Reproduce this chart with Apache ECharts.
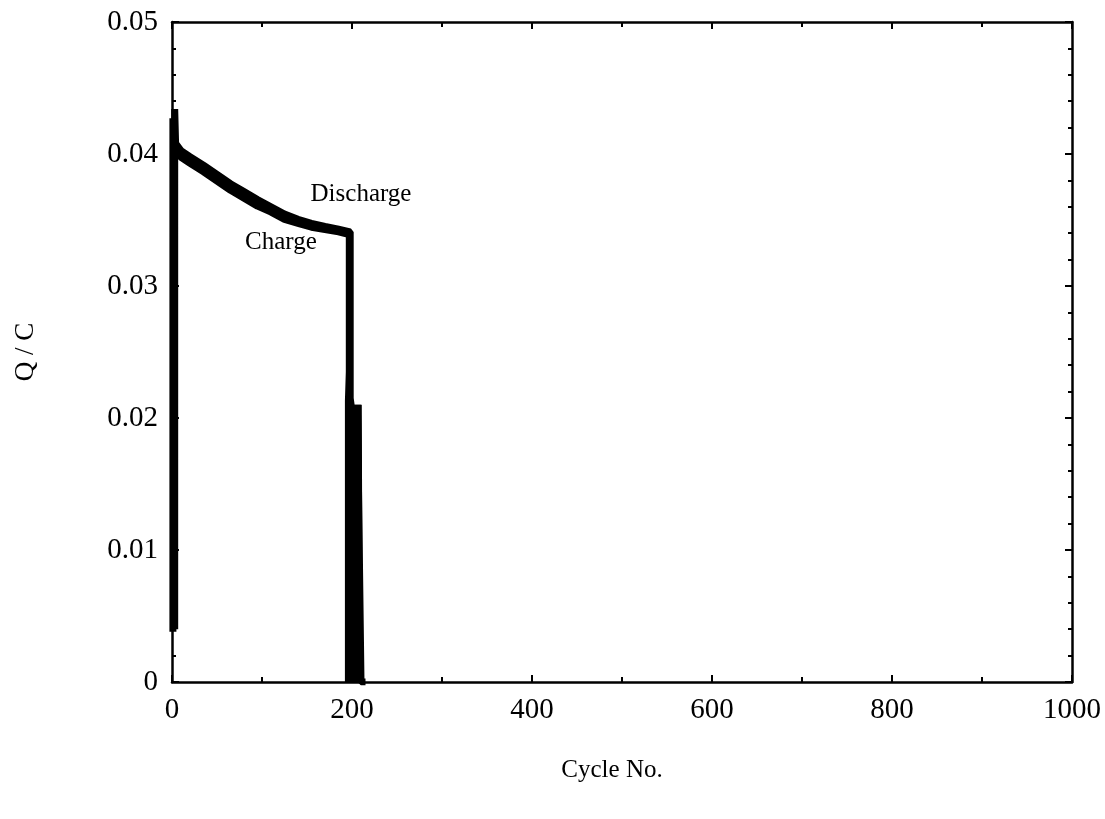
<!DOCTYPE html>
<html>
<head>
<meta charset="utf-8">
<script src="https://cdn.jsdelivr.net/npm/echarts@6/dist/echarts.min.js"></script>
<style>
  html, body { margin: 0; padding: 0; background: #fff; }
  #chart { width: 1105px; height: 819px; }
</style>
</head>
<body>
<div id="chart"></div>
<script>
  // cycle no. / Q (C) pairs
  var chargeData = [
    [1, 0.0038], [1, 0.0427], [3, 0.0402], [10, 0.03975], [20, 0.0393], [35, 0.03865],
    [50, 0.03795], [65, 0.03725], [80, 0.03665], [95, 0.03605], [110, 0.0356],
    [125, 0.03505], [140, 0.03475], [155, 0.03445], [170, 0.03428], [185, 0.0341],
    [197, 0.0339], [197, 0.0235], [196, 0.0213], [196, 0], [198, 0.021], [199, 0],
    [201, 0.021], [202, 0], [204, 0.021], [205, 0], [207, 0.021], [208, 0]
  ];
  var dischargeData = [
    [3, 0.0040], [3, 0.0434], [4, 0.0408], [10, 0.04025], [20, 0.0398], [35, 0.03915],
    [50, 0.03845], [65, 0.03775], [80, 0.03715], [95, 0.03655], [110, 0.036],
    [125, 0.03545], [140, 0.03505], [155, 0.03475], [170, 0.03452], [185, 0.0343],
    [198, 0.0341], [198, 0.0215], [199, 0.021], [199, 0], [200, 0.021], [201, 0],
    [203, 0.021], [204, 0], [206, 0.021], [208, 0.021], [208, 0.0105], [210, 0.0105],
    [210, 0], [215, 0]
  ];
  var notes = [
    { name: 'Discharge', value: [210, 0.0369] },
    { name: 'Charge', value: [121, 0.0333] }
  ];
  var xTicks = { min: 0, max: 1000, interval: 200 };
  var yTicks = { min: 0, max: 0.05, interval: 0.01 };

  var font = 'Liberation Serif, Times New Roman, serif';
  var myChart = echarts.init(document.getElementById('chart'));

  function frameAxis(base, pos, labels) {
    return Object.assign({
      type: 'value',
      position: pos,
      axisLine: { show: true, onZero: false, lineStyle: { color: '#000', width: 2.5 } },
      axisTick: { show: true, inside: true, length: 7, lineStyle: { color: '#000', width: 2 } },
      splitLine: { show: false },
      axisLabel: labels ? {
        show: true, color: '#000', fontFamily: font, fontSize: 29, margin: 14,
        formatter: function (v) { return String(v); }
      } : { show: false }
    }, base);
  }

  var option = {
    backgroundColor: '#fff',
    animation: false,
    grid: { left: 172, right: 33, top: 22, bottom: 137, containLabel: false },
    xAxis: [
      frameAxis({
        min: xTicks.min, max: xTicks.max, interval: xTicks.interval,
        minorTick: { show: true, splitNumber: 2, length: 5, lineStyle: { color: '#000', width: 2 } },
        name: 'Cycle No.', nameLocation: 'middle', nameGap: 76,
        nameTextStyle: { color: '#000', fontFamily: font, fontSize: 25, padding: [0, 20, 0, 0] }
      }, 'bottom', true),
      frameAxis({
        min: xTicks.min, max: xTicks.max, interval: xTicks.interval,
        minorTick: { show: true, splitNumber: 2, length: 5, lineStyle: { color: '#000', width: 2 } }
      }, 'top', false)
    ],
    yAxis: [
      frameAxis({
        min: yTicks.min, max: yTicks.max, interval: yTicks.interval,
        minorTick: { show: true, splitNumber: 5, length: 4, lineStyle: { color: '#000', width: 2 } },
        name: 'Q / C', nameLocation: 'middle', nameGap: 133,
        nameTextStyle: { color: '#000', fontFamily: font, fontSize: 27 }
      }, 'left', true),
      frameAxis({
        min: yTicks.min, max: yTicks.max, interval: yTicks.interval,
        minorTick: { show: true, splitNumber: 5, length: 4, lineStyle: { color: '#000', width: 2 } }
      }, 'right', false)
    ],
    series: [
      {
        name: 'Charge', type: 'line', data: chargeData,
        showSymbol: false, symbol: 'none',
        lineStyle: { color: '#000', width: 7 }
      },
      {
        name: 'Discharge', type: 'line', data: dischargeData,
        showSymbol: false, symbol: 'none',
        lineStyle: { color: '#000', width: 7 }
      },
      {
        name: 'notes', type: 'scatter', data: notes,
        symbolSize: 0, silent: true,
        itemStyle: { opacity: 1 },
        label: {
          show: true, position: 'inside', formatter: '{b}',
          color: '#000', fontFamily: font, fontSize: 25, opacity: 1
        }
      }
    ]
  };
  if (option && typeof option === "object") {
    myChart.setOption(option, true);
  }
</script>
</body>
</html>
